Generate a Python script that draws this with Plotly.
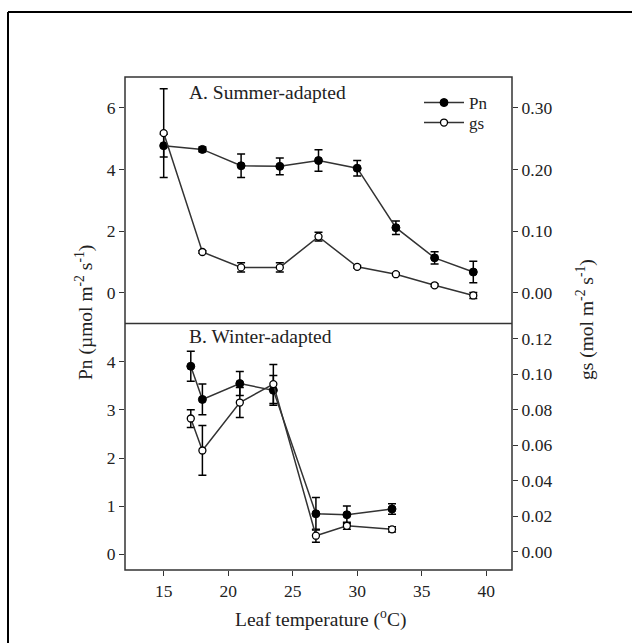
import plotly.graph_objects as go

# ---- data ----
x_summer = [15, 18, 21, 24, 27, 30, 33, 36, 39]
pn_summer = [4.77, 4.65, 4.12, 4.10, 4.29, 4.04, 2.11, 1.13, 0.67]
pn_summer_err = [0.37, 0.08, 0.38, 0.27, 0.35, 0.25, 0.22, 0.20, 0.35]
gs_summer = [0.259, 0.066, 0.041, 0.041, 0.091, 0.042, 0.030, 0.012, -0.0045]
gs_summer_err = [0.072, 0.002, 0.0075, 0.0075, 0.007, 0.002, 0.002, 0.002, 0.005]

x_winter = [17.1, 18.0, 20.9, 23.5, 26.8, 29.2, 32.7]
pn_winter = [3.91, 3.22, 3.55, 3.41, 0.84, 0.82, 0.94]
pn_winter_err = [0.31, 0.32, 0.25, 0.31, 0.34, 0.18, 0.11]
gs_winter = [0.075, 0.057, 0.084, 0.0944, 0.009, 0.0146, 0.0126]
gs_winter_err = [0.005, 0.014, 0.0085, 0.011, 0.0037, 0.002, 0.0015]

x_ticks = [15, 20, 25, 30, 35, 40]

FONT = "Liberation Serif"
LINE = "#333333"
W, H = 632, 643
L, R, T, B = 125, 512, 77, 570
PW, PH = R - L, B - T


def px(x):
    return (x - L) / PW


def py(y):
    return 1 - (y - T) / PH


fig = go.Figure()

pn_style = dict(mode="lines+markers", line=dict(color=LINE, width=1.5),
                marker=dict(symbol="circle", size=8, color="black",
                            line=dict(color="black", width=1)))
gs_style = dict(mode="lines+markers", line=dict(color=LINE, width=1.5),
                marker=dict(symbol="circle", size=7, color="white",
                            line=dict(color="black", width=1.3)))
err = dict(type="data", color="black", thickness=1.5, width=4)

# top panel (summer)
fig.add_trace(go.Scatter(x=x_summer, y=gs_summer, name="gs",
                         error_y=dict(array=gs_summer_err, **err),
                         xaxis="x2", yaxis="y4", showlegend=True, legend="legend2", **gs_style))
fig.add_trace(go.Scatter(x=x_summer, y=pn_summer, name="Pn",
                         error_y=dict(array=pn_summer_err, **err),
                         xaxis="x2", yaxis="y3", showlegend=True, legend="legend", **pn_style))
# bottom panel (winter)
fig.add_trace(go.Scatter(x=x_winter, y=gs_winter, name="gs",
                         error_y=dict(array=gs_winter_err, **err),
                         xaxis="x", yaxis="y2", showlegend=False, **gs_style))
fig.add_trace(go.Scatter(x=x_winter, y=pn_winter, name="Pn",
                         error_y=dict(array=pn_winter_err, **err),
                         xaxis="x", yaxis="y", showlegend=False, **pn_style))

tickfont = dict(family=FONT, size=17.5, color="#222222")
common = dict(showgrid=False, zeroline=False, ticks="outside", ticklen=5,
              tickcolor=LINE, tickwidth=1.2, tickfont=tickfont, showline=False)

leg_common = dict(xanchor="left", yanchor="top", bgcolor="rgba(0,0,0,0)",
                  font=dict(family=FONT, size=17, color="#222222"), itemwidth=40)

fig.update_layout(
    width=W, height=H,
    margin=dict(l=L, r=W - R, t=T, b=H - B),
    paper_bgcolor="white", plot_bgcolor="white",
    font=dict(family=FONT, color="#222222"),
    xaxis=dict(domain=[0, 1], anchor="y", range=[12, 42], tickvals=x_ticks, **common),
    xaxis2=dict(domain=[0, 1], anchor="y3", range=[12, 42], showticklabels=False,
                ticks="", showgrid=False, zeroline=False),
    yaxis=dict(domain=[0, 0.5], anchor="x", range=[-0.33, 4.8], tickvals=[0, 1, 2, 3, 4], **common),
    yaxis2=dict(anchor="x", overlaying="y", side="right", range=[-0.0103, 0.1285],
                tickvals=[0, 0.02, 0.04, 0.06, 0.08, 0.10, 0.12], tickformat=".2f", **common),
    yaxis3=dict(domain=[0.5, 1], anchor="x2", range=[-1, 7], tickvals=[0, 2, 4, 6], **common),
    yaxis4=dict(anchor="x2", overlaying="y3", side="right", range=[-0.05, 0.35],
                tickvals=[0, 0.1, 0.2, 0.3], tickformat=".2f", **common),
    legend=dict(x=px(419), y=py(85), **leg_common),
    legend2=dict(x=px(419), y=py(105), **leg_common),
    showlegend=True,
)

shapes = [
    # plot frame and divider
    dict(type="rect", xref="paper", yref="paper", x0=0, x1=1, y0=0, y1=1,
         line=dict(color=LINE, width=1.5)),
    dict(type="line", xref="paper", yref="paper", x0=0, x1=1, y0=0.5, y1=0.5,
         line=dict(color=LINE, width=1.5)),
    # outer figure frame
    dict(type="line", xref="paper", yref="paper", x0=px(8), x1=px(8), y0=py(12), y1=py(660),
         line=dict(color="black", width=2)),
    dict(type="line", xref="paper", yref="paper", x0=px(8), x1=px(650), y0=py(12), y1=py(12),
         line=dict(color="black", width=2)),
]
fig.update_layout(shapes=shapes)

ann_font = dict(family=FONT, size=19.5, color="#222222")
anc = dict(xref="paper", yref="paper", showarrow=False, font=ann_font,
           xanchor="center", yanchor="middle")
fig.add_annotation(text="A. Summer-adapted", x=px(267), y=py(92), **anc)
fig.add_annotation(text="B. Winter-adapted", x=px(260), y=py(336), **anc)
fig.add_annotation(text="Pn (µmol m<sup>-2</sup> s<sup>-1</sup>)", x=px(84), y=py(313),
                   textangle=-90, **anc)
fig.add_annotation(text="gs (mol m<sup>-2</sup> s<sup>-1</sup>)", x=px(585), y=py(320),
                   textangle=-90, **anc)
fig.add_annotation(text="Leaf temperature (<sup>o</sup>C)", x=px(320), y=py(618), **anc)

fig.write_html("out.html")
